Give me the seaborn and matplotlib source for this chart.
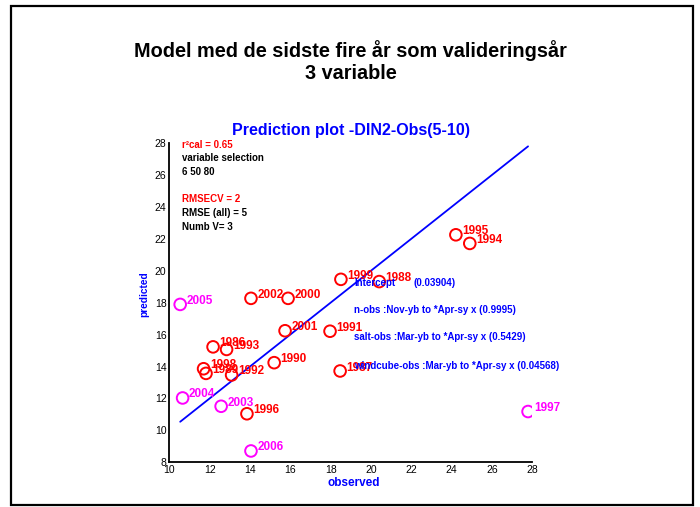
import numpy as np
import pandas as pd
import matplotlib
matplotlib.use("Agg")
import matplotlib.pyplot as plt
from matplotlib.patches import Rectangle
import seaborn as sns

# Data
years = [1986, 1987, 1988, 1989, 1990, 1991, 1992, 1993, 1994, 1995, 1996,
         1997, 1998, 1999, 2000, 2001, 2002, 2003, 2004, 2005, 2006]
observed = [12.17, 18.47, 20.41, 11.82, 15.20, 17.97, 13.09, 12.84, 24.90, 24.21, 13.85,
            27.79, 11.70, 18.51, 15.89, 15.74, 14.05, 12.57, 10.66, 10.54, 14.05]
predicted = [15.23, 13.72, 19.32, 13.57, 14.24, 16.21, 13.47, 15.07, 21.71, 22.25, 11.04,
             11.18, 13.86, 19.46, 18.27, 16.24, 18.27, 11.51, 12.03, 17.89, 8.71]
validation_years = [1997, 2003, 2004, 2005, 2006]

stats_lines = [("r²cal = 0.65", "red"), ("variable selection", "black"), ("6 50 80", "black"),
               ("RMSECV = 2", "red"), ("RMSE (all) = 5", "black"), ("Numb V= 3", "black")]
coef_names = ["Intercept", "n-obs :Nov-yb to *Apr-sy x", "salt-obs :Mar-yb to *Apr-sy x",
              "windcube-obs :Mar-yb to *Apr-sy x"]
coef_values = [0.03904, 0.9995, 0.5429, 0.04568]

df = pd.DataFrame({"year": years, "observed": observed, "predicted": predicted})
df["set"] = np.where(df["year"].isin(validation_years), "val", "cal")
colors = {"cal": "#ff0000", "val": "#ff00ff"}

sns.set_theme(style="white")
plt.rcParams["font.family"] = ["Liberation Sans", "DejaVu Sans"]
plt.rcParams["text.color"] = "black"

fig = plt.figure(figsize=(7.0, 5.07), dpi=100)
ax = fig.add_axes([169.3 / 700, 1 - 462.3 / 507, 363 / 700, 319.3 / 507])

# 1:1 line over the observed range
lo, hi = min(observed), max(observed)
sns.lineplot(x=[lo, hi], y=[lo, hi], ax=ax, color="#0000ff", lw=1.3)

for grp, sub in df.groupby("set"):
    sns.scatterplot(data=sub, x="observed", y="predicted", ax=ax, color=colors[grp],
                    facecolor="none", edgecolor=colors[grp], s=70, linewidth=1.4,
                    marker="o", zorder=3)
    for _, r in sub.iterrows():
        ax.annotate(str(r["year"]), (r["observed"], r["predicted"]), xytext=(4.5, 2.5),
                    textcoords="offset points", ha="left", va="center",
                    color=colors[grp], fontsize=8.5, fontweight="bold")

# statistics block, upper left
stat_y = [27.85, 27.06, 26.21, 24.49, 23.6, 22.72]
for (txt, col), yy in zip(stats_lines, stat_y):
    ax.text(10.63, yy, txt, color=col, fontsize=7, fontweight="bold", va="center")

# coefficient block
coef_y = [19.26, 17.52, 15.84, 14.06]
ax.text(19.17, coef_y[0], coef_names[0], color="#0000ff", fontsize=7, fontweight="bold", va="center")
ax.text(22.12, coef_y[0], f"({coef_values[0]})", color="#0000ff", fontsize=7, fontweight="bold", va="center")
for name, val, yy in zip(coef_names[1:], coef_values[1:], coef_y[1:]):
    ax.text(19.17, yy, f"{name} ({val})", color="#0000ff", fontsize=7, fontweight="bold",
            va="center", clip_on=False)

ax.set_xlim(10, 28)
ax.set_ylim(8, 28)
ax.set_xticks(np.arange(10, 29, 2))
ax.set_yticks(np.arange(8, 29, 2))
ax.tick_params(direction="in", length=3.5, width=1.1, labelsize=7.5, pad=2, colors="black")
for side in ["top", "right"]:
    ax.spines[side].set_visible(False)
for side in ["left", "bottom"]:
    ax.spines[side].set_linewidth(1.3)
    ax.spines[side].set_color("black")

ax.set_title("Prediction plot -DIN2-Obs(5-10)", color="#0000ff", fontsize=11.5,
             fontweight="bold", pad=6)
ax.set_xlabel("observed", color="#0000ff", fontsize=8.5, fontweight="bold", va="center")
ax.set_ylabel("predicted", color="#0000ff", fontsize=7.3, fontweight="bold", va="center")
ax.xaxis.set_label_coords(0.509, -0.064)
ax.yaxis.set_label_coords(-0.0697, 0.527)

fig.text(0.501, 1 - 51 / 507, "Model med de sidste fire år som valideringsår",
         ha="center", va="center", fontsize=14.3, fontweight="bold", color="black")
fig.text(0.501, 1 - 73.3 / 507, "3 variable", ha="center", va="center",
         fontsize=14.3, fontweight="bold", color="black")

fig.add_artist(Rectangle((11 / 700, 2 / 507), 681.7 / 700, 499.5 / 507,
                         transform=fig.transFigure, fill=False, lw=1.6, color="black"))

fig.savefig("out.png", dpi=100)
